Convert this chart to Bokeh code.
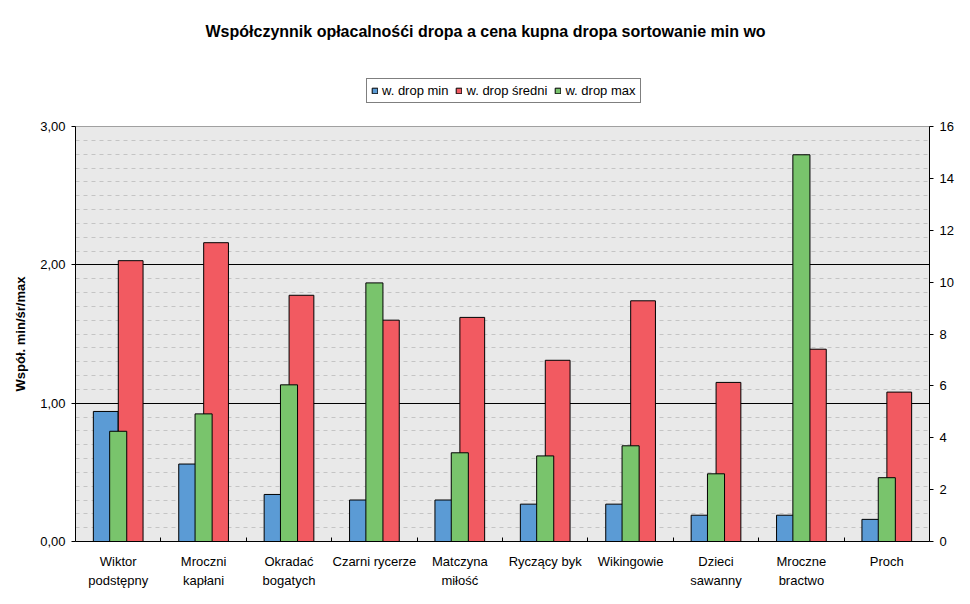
from bokeh.plotting import figure
from bokeh.layouts import column
from bokeh.models import (Range1d, LinearAxis, FixedTicker, Legend, LegendItem,
                          ColumnDataSource, CustomJSTickFormatter, Label)
from bokeh.transform import dodge
from bokeh.embed import file_html
from bokeh.resources import INLINE

categories = ["Wiktor\npodstępny", "Mroczni\nkapłani", "Okradać\nbogatych", "Czarni rycerze",
              "Matczyna\nmiłość", "Ryczący byk", "Wikingowie", "Dzieci\nsawanny",
              "Mroczne\nbractwo", "Proch"]
drop_min = [0.94, 0.56, 0.34, 0.30, 0.30, 0.27, 0.27, 0.19, 0.19, 0.16]
drop_sredni = [2.03, 2.16, 1.78, 1.60, 1.62, 1.31, 1.74, 1.15, 1.39, 1.08]
drop_max = [4.25, 4.92, 6.04, 9.97, 3.42, 3.30, 3.69, 2.61, 14.91, 2.46]
series_names = ["w. drop min", "w. drop średni", "w. drop max"]
left_ticks = [0, 1, 2, 3]
right_ticks = [0, 2, 4, 6, 8, 10, 12, 14, 16]
title_text = "Współczynnik opłacalnośći dropa a cena kupna dropa sortowanie min wo"

BLUE = "#5b9bd5"
RED = "#f25a61"
GREEN = "#79c46c"
FONT = "Liberation Sans"

idx = list(range(len(categories)))
source = ColumnDataSource(dict(x=idx, mn=drop_min, sr=drop_sredni, mx=drop_max))

# ---------------- main chart ----------------
p = figure(frame_width=854, frame_height=415, output_backend="svg", toolbar_location=None,
           x_range=Range1d(-0.5, len(categories) - 0.5), y_range=Range1d(0, 3),
           min_border_left=75, min_border_right=41, min_border_top=8, min_border_bottom=63)
p.extra_y_ranges = {"r": Range1d(0, 16)}

p.background_fill_color = "#e9e9e9"
p.border_fill_color = "white"
p.outline_line_color = "#a0a0a0"

p.vbar(x=dodge("x", -0.146, range=p.x_range), top="mn", width=0.29, source=source,
       fill_color=BLUE, line_color="black", line_width=1)
p.vbar(x=dodge("x", 0.146, range=p.x_range), top="sr", width=0.29, source=source,
       fill_color=RED, line_color="black", line_width=1)
p.vbar(x="x", top="mx", width=0.2, source=source, y_range_name="r",
       fill_color=GREEN, line_color="black", line_width=1)

# grid
p.xgrid.visible = False
g = p.ygrid[0]
g.ticker = FixedTicker(ticks=[1, 2], minor_ticks=[k / 10 for k in range(1, 30) if k % 10])
g.grid_line_color = "black"
g.grid_line_width = 1
g.minor_grid_line_color = "#c4c4c4"
g.minor_grid_line_dash = "4 4"

# left axis
ya = p.yaxis[0]
ya.ticker = FixedTicker(ticks=left_ticks)
ya.formatter = CustomJSTickFormatter(code="return tick.toFixed(2).replace('.', ',');")
ya.axis_label = "Współ. min/śr/max"
ya.axis_label_text_font = FONT
ya.axis_label_text_font_style = "bold"
ya.axis_label_text_font_size = "13px"
ya.axis_label_text_color = "black"
ya.axis_label_standoff = 9
ya.major_label_text_font = FONT
ya.major_label_text_font_size = "13px"
ya.major_label_text_color = "black"
ya.major_tick_out = 4
ya.major_tick_in = 0
ya.minor_tick_line_color = None
ya.axis_line_color = "black"
ya.major_tick_line_color = "black"
ya.major_label_standoff = 6

# right axis
ra = LinearAxis(y_range_name="r", ticker=FixedTicker(ticks=right_ticks))
ra.major_label_text_font = FONT
ra.major_label_text_font_size = "13px"
ra.major_label_text_color = "black"
ra.major_tick_out = 4
ra.major_tick_in = 0
ra.minor_tick_line_color = None
ra.axis_line_color = "black"
ra.major_label_standoff = 6
p.add_layout(ra, "right")

# x axis
xa = p.xaxis[0]
xa.ticker = FixedTicker(ticks=idx, minor_ticks=[i + 0.5 for i in idx[:-1]])
xa.major_label_overrides = {i: c for i, c in zip(idx, categories)}
xa.major_tick_line_color = None
xa.major_tick_out = 0
xa.major_tick_in = 0
xa.minor_tick_in = 4
xa.minor_tick_out = 0
xa.minor_tick_line_color = "black"
xa.axis_line_color = "black"
xa.major_label_text_font = FONT
xa.major_label_text_font_size = "13px"
xa.major_label_text_color = "black"
xa.major_label_text_line_height = 1.3
xa.major_label_standoff = 12

# ---------------- header: title + legend ----------------
h = figure(frame_width=970, frame_height=118, output_backend="svg", toolbar_location=None,
           x_range=Range1d(0, 970), y_range=Range1d(0, 118),
           x_axis_location=None, y_axis_location=None,
           min_border_left=0, min_border_right=0, min_border_top=0, min_border_bottom=0)
h.grid.visible = False
h.outline_line_color = None
h.background_fill_color = "white"
h.border_fill_color = "white"

# hidden copies of the series, used only for the legend swatches
leg_renderers = [
    h.vbar(x="x", top=col, width=0.29, source=source, fill_color=c, line_color="black",
           line_width=1, visible=False)
    for col, c in (("mn", BLUE), ("sr", RED), ("mx", GREEN))
]

legend = Legend(items=[LegendItem(label=n, renderers=[r])
                       for n, r in zip(series_names, leg_renderers)],
                orientation="horizontal", location=(366, 15),
                border_line_color="black", border_line_width=1,
                background_fill_color="white", background_fill_alpha=1,
                label_text_font=FONT, label_text_font_size="13px", label_text_color="black",
                glyph_width=7, glyph_height=7, label_standoff=4, spacing=7,
                padding=4, label_height=15, margin=0,
                inactive_fill_alpha=0.0)
h.add_layout(legend, "center")

h.add_layout(Label(x=130, y=87, text=title_text, text_align="left",
                   text_baseline="middle", text_font=FONT, text_font_size="16px",
                   text_font_style="bold", text_color="black"))

layout = column(h, p, spacing=0)
open("out.html", "w").write(file_html(layout, INLINE))
